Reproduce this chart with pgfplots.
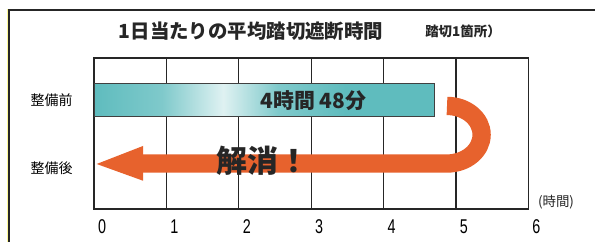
\documentclass[border=0pt]{standalone}
\usepackage{pgfplots}
\pgfplotsset{compat=1.18}
\usepackage{fontspec}
\newfontfamily\jp{Noto Sans CJK JP}
\newfontfamily\narrow[FakeStretch=0.72]{Liberation Sans}
\definecolor{barteal}{RGB}{95,188,190}
\definecolor{arrow}{RGB}{231,98,45}
\pgfdeclarehorizontalshading{barshade}{100bp}{color(0bp)=(barteal); color(25bp)=(barteal); color(35bp)=(barteal!80!white); color(44bp)=(barteal!20!white); color(52bp)=(barteal!80!white); color(62bp)=(barteal); color(100bp)=(barteal)}
\begin{document}
\begin{tikzpicture}
\useasboundingbox (0,0) rectangle (595bp,242bp);
\fill[white] (0,0) rectangle (595bp,242bp);
\draw[yellow!40!white, line width=1bp] (7.3bp,-2bp) -- (7.3bp,233bp);
\draw[black!85, line width=2bp] (9bp,-2bp) -- (9bp,232bp) -- (600bp,232bp);
\begin{axis}[
  at={(94bp,33bp)}, anchor=south west,
  scale only axis, width=434.3bp, height=151bp,
  xmin=0, xmax=6, ymin=-0.603, ymax=1.618,
  xtick={0,1,2,3,4,5,6}, xticklabels={0,1,2,3,4,5,6},
  ytick={0,1}, yticklabels={整備後,整備前},
  major tick length=0pt,
  axis line style={line width=1.5bp, black!85},
  xmajorgrids, grid style={line width=1.2bp, black!85},
  xticklabel style={font=\narrow\fontsize{20}{20}\selectfont, anchor=base, yshift=-25bp, xshift=8bp, inner sep=0pt},
  yticklabel style={font=\jp\fontsize{14}{14}\selectfont, anchor=east, inner sep=0pt, xshift=-21.3bp},
  clip=false,
]
\addplot[xbar, bar width=33bp, draw=black!75, line width=0.8bp, shading=barshade] coordinates {(4.7,1)};
\draw[arrow, line width=18.3bp] (axis cs:4.877,0.913) arc[start angle=90, end angle=-90, x radius=34.6bp, y radius=28.8bp] -- (axis cs:0.64,0.066);
\fill[arrow] (axis cs:0.037,0.059) -- (axis cs:0.677,0.324) -- (axis cs:0.677,-0.187) -- cycle;
\node[font=\jp\bfseries\fontsize{21}{21}\selectfont, text=black!85, inner sep=0pt] at (axis cs:3.03,0.99) {4時間 48分};
\node[font=\jp\bfseries\fontsize{31}{31}\selectfont, text=black!85, inner sep=0pt] at (axis cs:2.335,0.103) {解消！};
\end{axis}
\node[font=\jp\bfseries\fontsize{19.5}{20}\selectfont, text=black!85, inner sep=0pt] at (251bp,211bp) {1日当たりの平均踏切遮断時間};
\node[font=\jp\bfseries\fontsize{13.5}{14}\selectfont, text=black!85, inner sep=0pt] at (463bp,211bp) {踏切1箇所）};
\node[font=\jp\fontsize{13.5}{14}\selectfont, text=black!85, inner sep=0pt] at (556bp,40bp) {(時間)};
\end{tikzpicture}
\end{document}
